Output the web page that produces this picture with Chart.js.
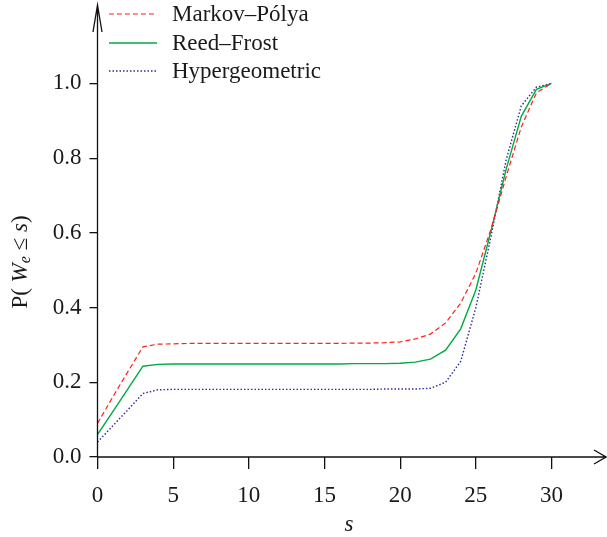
<!DOCTYPE html>
<html>
<head>
<meta charset="utf-8">
<script src="https://cdn.jsdelivr.net/npm/chart.js@4.4.0/dist/chart.umd.min.js"></script>
<style>
html,body{margin:0;padding:0;background:#fff;}
#wrap{width:607px;height:537px;}
</style>
</head>
<body>
<div id="wrap"><canvas id="c" width="607" height="537"></canvas></div>
<script>
const sValues = [0,1,2,3,4,5,6,7,8,9,10,11,12,13,14,15,16,17,18,19,20,21,22,23,24,25,26,27,28,29,30];
const markovPolya = [0.090,0.160,0.228,0.295,0.302,0.303,0.304,0.304,0.304,0.304,0.304,0.304,0.304,0.304,0.304,0.304,0.304,0.305,0.305,0.306,0.308,0.316,0.329,0.359,0.412,0.492,0.610,0.750,0.883,0.975,1.000];
const reedFrost = [0.060,0.121,0.182,0.243,0.248,0.249,0.249,0.249,0.249,0.249,0.249,0.249,0.249,0.249,0.249,0.249,0.249,0.250,0.250,0.250,0.251,0.254,0.262,0.286,0.343,0.447,0.605,0.770,0.912,0.984,1.000];
const hypergeometric = [0.040,0.083,0.126,0.170,0.180,0.181,0.181,0.181,0.181,0.181,0.181,0.181,0.181,0.181,0.181,0.181,0.181,0.181,0.181,0.182,0.182,0.182,0.184,0.200,0.256,0.400,0.590,0.795,0.940,0.990,1.000];
const xTicks = [0,5,10,15,20,25,30];
const yTicks = [0.0,0.2,0.4,0.6,0.8,1.0];
const seriesNames = ["Markov\u2013P\u00f3lya","Reed\u2013Frost","Hypergeometric"];

const FONT = '"Liberation Serif", "Times New Roman", serif';
const TXT = '#1a1a1a';

function pts(arr){ return sValues.map((s,i)=>({x:s,y:arr[i]})); }

const overlay = {
  id:'overlay',
  afterDraw(chart){
    const ctx = chart.ctx, a = chart.chartArea;
    ctx.save();
    // axis arrows
    ctx.strokeStyle = '#111'; ctx.lineWidth = 1.3;
    ctx.beginPath();
    ctx.moveTo(a.left, a.bottom); ctx.lineTo(a.left, a.top);
    ctx.moveTo(a.left-4.5, a.top+27); ctx.lineTo(a.left, a.top); ctx.lineTo(a.left+4.5, a.top+27);
    ctx.moveTo(a.left, a.bottom); ctx.lineTo(a.right, a.bottom);
    ctx.moveTo(a.right-12, a.bottom-7); ctx.lineTo(a.right, a.bottom); ctx.lineTo(a.right-12, a.bottom+7);
    ctx.stroke();
    // legend
    ctx.font = '23px ' + FONT; ctx.fillStyle = TXT; ctx.textBaseline = 'middle'; ctx.textAlign='left';
    const rows = [14, 43, 71];
    chart.data.datasets.forEach((d,i)=>{
      ctx.save();
      ctx.strokeStyle = d.borderColor; ctx.lineWidth = d.borderWidth;
      ctx.setLineDash(d.borderDash || []);
      ctx.beginPath(); ctx.moveTo(109, rows[i]); ctx.lineTo(157, rows[i]); ctx.stroke();
      ctx.restore();
      ctx.fillText(d.label, 172, rows[i]+1);
    });
    // x title
    ctx.font = 'italic 23px ' + FONT; ctx.textAlign='center';
    ctx.fillText('s', 349, 525);
    // y title
    ctx.translate(21, 262); ctx.rotate(-Math.PI/2);
    const parts = [
      {t:'P(', f:'23px '+FONT, dy:0},
      {t:' ', f:'23px '+FONT, dy:0},
      {t:'W', f:'italic 23px '+FONT, dy:0},
      {t:'e', f:'italic 16px '+FONT, dy:5},
      {t:' \u2264 ', f:'23px '+FONT, dy:0},
      {t:'s', f:'italic 23px '+FONT, dy:0},
      {t:')', f:'23px '+FONT, dy:0}
    ];
    let total = 0;
    parts.forEach(p=>{ ctx.font=p.f; p.w = ctx.measureText(p.t).width; total += p.w; });
    let x = -total/2;
    ctx.textAlign='left';
    parts.forEach(p=>{ ctx.font=p.f; ctx.fillText(p.t, x, p.dy); x += p.w; });
    ctx.restore();
  }
};

new Chart(document.getElementById('c'), {
  type:'line',
  data:{
    datasets:[
      {label:seriesNames[0], data:pts(markovPolya), borderColor:'#ff2020', borderWidth:1.2, borderDash:[5,3], pointRadius:0, fill:false, tension:0},
      {label:seriesNames[1], data:pts(reedFrost), borderColor:'#00aa44', borderWidth:1.4, pointRadius:0, fill:false, tension:0},
      {label:seriesNames[2], data:pts(hypergeometric), borderColor:'#2a2aa0', borderWidth:1.4, borderDash:[1.5,2], pointRadius:0, fill:false, tension:0}
    ]
  },
  options:{
    responsive:false, animation:false, devicePixelRatio:1,
    layout:{padding:{top:5, right:1, left:0, bottom:0}},
    plugins:{legend:{display:false}, tooltip:{enabled:false}},
    scales:{
      x:{
        type:'linear', min:0, max:33.6,
        afterBuildTicks(s){ s.ticks = xTicks.map(v=>({value:v})); },
        afterFit(s){ s.height = 80; s.paddingLeft = 0; s.paddingRight = 0; },
        grid:{drawOnChartArea:false, drawTicks:true, tickLength:12, color:'#111', lineWidth:1.3},
        border:{display:false},
        ticks:{font:{family:FONT, size:23}, color:TXT, padding:13, maxRotation:0, callback:v=>String(v)}
      },
      y:{
        type:'linear', min:0, max:1.21,
        afterBuildTicks(s){ s.ticks = yTicks.map(v=>({value:v})); },
        afterFit(s){ s.width = 97.5; s.paddingTop = 0; s.paddingBottom = 0; },
        grid:{drawOnChartArea:false, drawTicks:true, tickLength:8, color:'#111', lineWidth:1.3},
        border:{display:false},
        ticks:{font:{family:FONT, size:23}, color:TXT, padding:8, callback:v=>v.toFixed(1)}
      }
    }
  },
  plugins:[overlay]
});
</script>
</body>
</html>
